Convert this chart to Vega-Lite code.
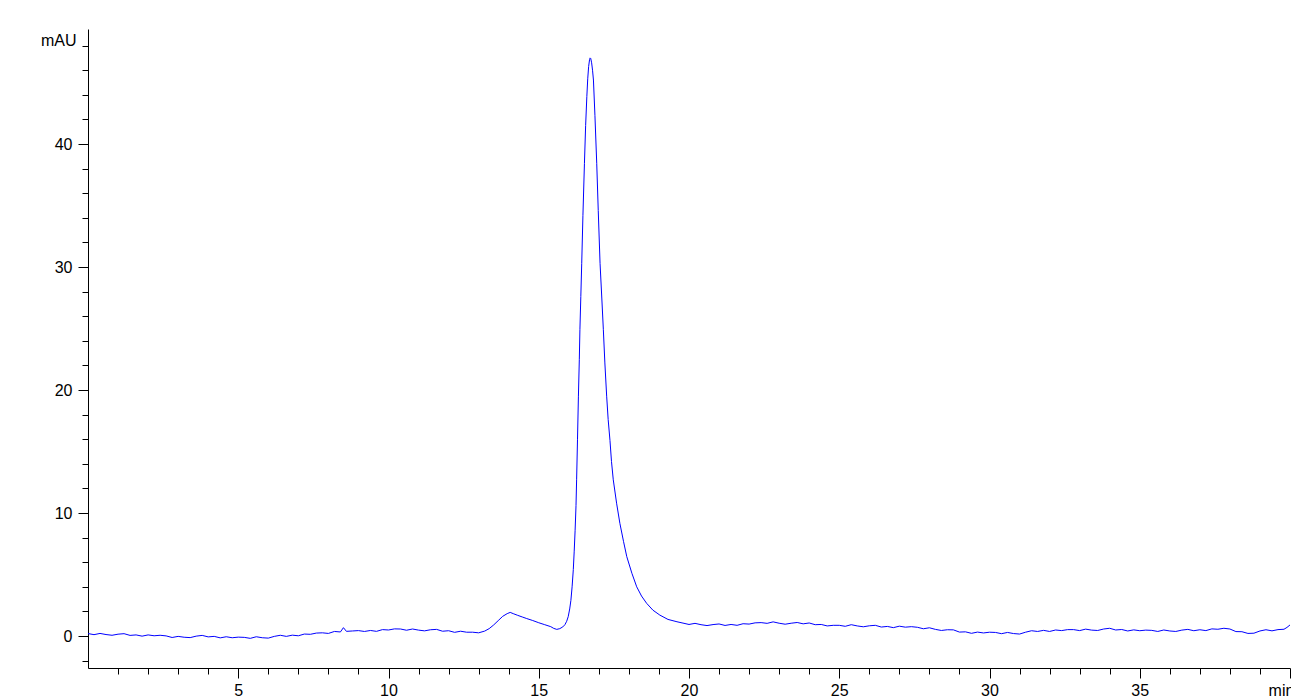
{
  "$schema": "https://vega.github.io/schema/vega-lite/v6.json",
  "width": 1202,
  "height": 639,
  "autosize": {"type": "none"},
  "padding": {"left": 88, "top": 29, "right": 1, "bottom": 29},
  "background": "white",
  "config": {"view": {"stroke": null}, "font": "Liberation Sans"},
  "data": {"values": [
    {"t":0.0,"v":0.20},{"t":0.2,"v":0.11},{"t":0.4,"v":0.21},{"t":0.6,"v":0.12},{"t":0.8,"v":0.06},
    {"t":1.0,"v":0.15},{"t":1.2,"v":0.19},{"t":1.4,"v":0.05},{"t":1.6,"v":0.09},{"t":1.8,"v":-0.01},
    {"t":2.0,"v":0.09},{"t":2.2,"v":0.02},{"t":2.4,"v":0.06},{"t":2.6,"v":0.01},{"t":2.8,"v":-0.12},
    {"t":3.0,"v":-0.03},{"t":3.2,"v":-0.10},{"t":3.4,"v":-0.13},{"t":3.6,"v":-0.01},{"t":3.8,"v":0.05},
    {"t":4.0,"v":-0.07},{"t":4.2,"v":-0.03},{"t":4.4,"v":-0.15},{"t":4.6,"v":-0.06},{"t":4.8,"v":-0.14},
    {"t":5.0,"v":-0.09},{"t":5.2,"v":-0.11},{"t":5.4,"v":-0.19},{"t":5.6,"v":-0.06},{"t":5.8,"v":-0.14},
    {"t":6.0,"v":-0.17},{"t":6.2,"v":-0.03},{"t":6.4,"v":0.06},{"t":6.6,"v":-0.03},{"t":6.8,"v":0.07},
    {"t":7.0,"v":0.02},{"t":7.2,"v":0.16},{"t":7.4,"v":0.14},{"t":7.6,"v":0.24},{"t":7.8,"v":0.26},
    {"t":8.0,"v":0.21},{"t":8.2,"v":0.37},{"t":8.4,"v":0.33},{"t":8.5,"v":0.68},{"t":8.6,"v":0.38},
    {"t":8.8,"v":0.41},{"t":9.0,"v":0.44},{"t":9.2,"v":0.37},{"t":9.4,"v":0.45},{"t":9.6,"v":0.38},
    {"t":9.8,"v":0.52},{"t":10.0,"v":0.49},{"t":10.2,"v":0.58},{"t":10.4,"v":0.57},{"t":10.6,"v":0.47},
    {"t":10.8,"v":0.57},{"t":11.0,"v":0.48},{"t":11.2,"v":0.42},{"t":11.4,"v":0.51},{"t":11.6,"v":0.54},
    {"t":11.8,"v":0.39},{"t":12.0,"v":0.43},{"t":12.2,"v":0.30},{"t":12.4,"v":0.39},{"t":12.6,"v":0.31},
    {"t":12.8,"v":0.31},{"t":13.0,"v":0.26},{"t":13.2,"v":0.40},{"t":13.35,"v":0.60},{"t":13.5,"v":0.90},
    {"t":13.65,"v":1.25},{"t":13.8,"v":1.60},{"t":13.95,"v":1.82},{"t":14.05,"v":1.92},{"t":14.15,"v":1.82},
    {"t":14.3,"v":1.68},{"t":14.45,"v":1.55},{"t":14.6,"v":1.42},{"t":14.8,"v":1.26},{"t":15.0,"v":1.08},
    {"t":15.2,"v":0.92},{"t":15.4,"v":0.76},{"t":15.5,"v":0.62},{"t":15.6,"v":0.54},{"t":15.7,"v":0.60},
    {"t":15.8,"v":0.74},{"t":15.87,"v":0.92},{"t":15.93,"v":1.2},{"t":15.98,"v":1.57},{"t":16.03,"v":2.2},
    {"t":16.07,"v":2.9},{"t":16.11,"v":4.0},{"t":16.15,"v":5.4},{"t":16.18,"v":6.9},{"t":16.21,"v":8.6},
    {"t":16.24,"v":10.6},{"t":16.26,"v":12.7},{"t":16.29,"v":16.0},{"t":16.32,"v":19.5},{"t":16.35,"v":22.5},
    {"t":16.37,"v":24.9},{"t":16.40,"v":27.6},{"t":16.43,"v":30.3},{"t":16.47,"v":34.2},{"t":16.52,"v":38.4},
    {"t":16.56,"v":41.5},{"t":16.60,"v":43.85},{"t":16.63,"v":45.3},{"t":16.66,"v":46.3},{"t":16.69,"v":46.85},
    {"t":16.71,"v":47.0},{"t":16.73,"v":46.95},{"t":16.76,"v":46.6},{"t":16.79,"v":46.0},{"t":16.82,"v":45.2},
    {"t":16.87,"v":42.3},{"t":16.93,"v":38.4},{"t":16.98,"v":34.6},{"t":17.04,"v":30.3},{"t":17.10,"v":27.4},
    {"t":17.15,"v":24.9},{"t":17.20,"v":22.2},{"t":17.26,"v":19.5},{"t":17.31,"v":17.6},{"t":17.37,"v":15.9},
    {"t":17.42,"v":14.2},{"t":17.48,"v":12.7},{"t":17.59,"v":10.8},{"t":17.70,"v":9.16},{"t":17.82,"v":7.7},
    {"t":17.93,"v":6.45},{"t":18.1,"v":5.1},{"t":18.26,"v":4.0},{"t":18.42,"v":3.25},{"t":18.59,"v":2.66},
    {"t":18.8,"v":2.1},{"t":19.03,"v":1.7},{"t":19.3,"v":1.35},{"t":19.6,"v":1.16},{"t":19.8,"v":1.05},
    {"t":20.0,"v":0.94},{"t":20.2,"v":1.03},{"t":20.4,"v":0.92},{"t":20.6,"v":0.85},{"t":20.8,"v":0.93},
    {"t":21.0,"v":0.98},{"t":21.2,"v":0.86},{"t":21.4,"v":0.94},{"t":21.6,"v":0.87},{"t":21.8,"v":1.00},
    {"t":22.0,"v":0.97},{"t":22.2,"v":1.07},{"t":22.4,"v":1.09},{"t":22.6,"v":1.03},{"t":22.8,"v":1.15},
    {"t":23.0,"v":1.04},{"t":23.2,"v":0.96},{"t":23.4,"v":1.04},{"t":23.6,"v":1.10},{"t":23.8,"v":0.99},
    {"t":24.0,"v":1.06},{"t":24.2,"v":0.92},{"t":24.4,"v":0.94},{"t":24.6,"v":0.82},{"t":24.8,"v":0.87},
    {"t":25.0,"v":0.87},{"t":25.2,"v":0.79},{"t":25.4,"v":0.92},{"t":25.6,"v":0.82},{"t":25.8,"v":0.75},
    {"t":26.0,"v":0.83},{"t":26.2,"v":0.87},{"t":26.4,"v":0.73},{"t":26.6,"v":0.78},{"t":26.8,"v":0.68},
    {"t":27.0,"v":0.80},{"t":27.2,"v":0.72},{"t":27.4,"v":0.76},{"t":27.6,"v":0.71},{"t":27.8,"v":0.59},
    {"t":28.0,"v":0.67},{"t":28.2,"v":0.54},{"t":28.4,"v":0.45},{"t":28.6,"v":0.51},{"t":28.8,"v":0.50},
    {"t":29.0,"v":0.32},{"t":29.2,"v":0.34},{"t":29.4,"v":0.22},{"t":29.6,"v":0.32},{"t":29.8,"v":0.25},
    {"t":30.0,"v":0.31},{"t":30.2,"v":0.29},{"t":30.4,"v":0.19},{"t":30.6,"v":0.29},{"t":30.8,"v":0.20},
    {"t":31.0,"v":0.16},{"t":31.2,"v":0.31},{"t":31.4,"v":0.43},{"t":31.6,"v":0.37},{"t":31.8,"v":0.46},
    {"t":32.0,"v":0.37},{"t":32.2,"v":0.49},{"t":32.4,"v":0.44},{"t":32.6,"v":0.52},{"t":32.8,"v":0.52},
    {"t":33.0,"v":0.44},{"t":33.2,"v":0.56},{"t":33.4,"v":0.48},{"t":33.6,"v":0.45},{"t":33.8,"v":0.57},
    {"t":34.0,"v":0.63},{"t":34.2,"v":0.49},{"t":34.4,"v":0.53},{"t":34.6,"v":0.41},{"t":34.8,"v":0.50},
    {"t":35.0,"v":0.43},{"t":35.2,"v":0.48},{"t":35.4,"v":0.46},{"t":35.6,"v":0.37},{"t":35.8,"v":0.49},
    {"t":36.0,"v":0.41},{"t":36.2,"v":0.37},{"t":36.4,"v":0.48},{"t":36.6,"v":0.54},{"t":36.8,"v":0.43},
    {"t":37.0,"v":0.51},{"t":37.2,"v":0.44},{"t":37.4,"v":0.58},{"t":37.6,"v":0.55},{"t":37.8,"v":0.63},
    {"t":38.0,"v":0.57},{"t":38.2,"v":0.36},{"t":38.4,"v":0.35},{"t":38.6,"v":0.21},{"t":38.8,"v":0.23},
    {"t":39.0,"v":0.41},{"t":39.2,"v":0.51},{"t":39.4,"v":0.42},{"t":39.6,"v":0.52},{"t":39.8,"v":0.55},
    {"t":39.9,"v":0.70},{"t":40.0,"v":0.90}
  ]},
  "mark": {"type": "line", "color": "#0000ff", "strokeWidth": 1, "clip": true, "interpolate": "linear"},
  "encoding": {
    "x": {
      "field": "t", "type": "quantitative",
      "scale": {"domain": [0, 40], "nice": false, "zero": false},
      "axis": {
        "title": null, "grid": false,
        "values": [1,2,3,4,5,6,7,8,9,10,11,12,13,14,15,16,17,18,19,20,21,22,23,24,25,26,27,28,29,30,31,32,33,34,35,36,37,38,39,40],
        "labelExpr": "datum.value === 40 ? 'min' : (datum.value % 5 === 0 ? datum.label : '')",
        "tickSize": {"condition": {"test": "datum.value % 5 === 0", "value": 10}, "value": 6},
        "labelOffset": {"condition": {"test": "datum.value === 40", "value": -9}, "value": 0},
        "labelPadding": 4,
        "labelOverlap": false, "labelFlush": false, "labelBound": false,
        "labelFontSize": 16, "labelColor": "#000000", "labelFont": "Liberation Sans",
        "domainColor": "#000000", "tickColor": "#000000", "domainWidth": 1, "tickWidth": 1
      }
    },
    "y": {
      "field": "v", "type": "quantitative",
      "scale": {"domain": [-2.6, 49.35], "nice": false, "zero": false},
      "axis": {
        "title": null, "grid": false,
        "values": [-2,0,2,4,6,8,10,12,14,16,18,20,22,24,26,28,30,32,34,36,38,40,42,44,46,48],
        "labelExpr": "datum.value === 48 ? 'mAU' : (datum.value % 10 === 0 ? datum.label : '')",
        "tickSize": {"condition": {"test": "datum.value % 10 === 0", "value": 10}, "value": 6},
        "labelOffset": {"condition": {"test": "datum.value === 48", "value": -5}, "value": 0},
        "labelPadding": 6,
        "labelOverlap": false, "labelFlush": false, "labelBound": false,
        "labelFontSize": 16, "labelColor": "#000000", "labelFont": "Liberation Sans",
        "domainColor": "#000000", "tickColor": "#000000", "domainWidth": 1, "tickWidth": 1
      }
    }
  }
}
